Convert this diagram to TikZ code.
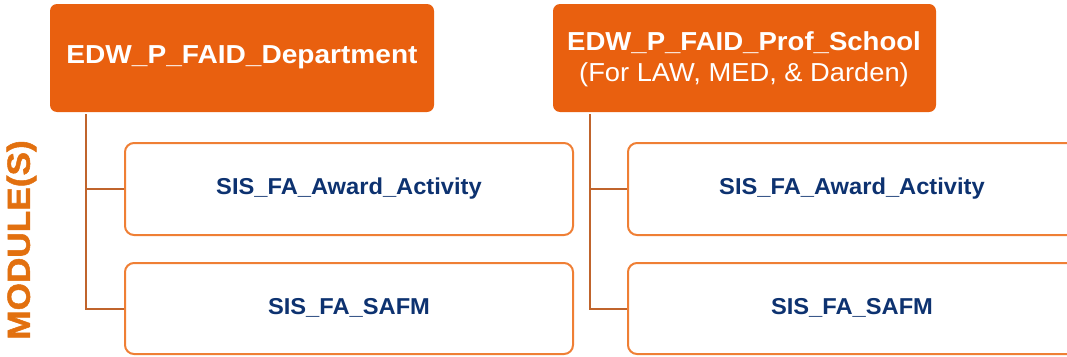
\documentclass[tikz,border=0pt]{standalone}
\usepackage{fontspec}
\setmainfont{Liberation Sans}
\newfontfamily\heavyfont[FakeBold=1.5]{Liberation Sans}
\definecolor{topfill}{HTML}{E9600F}
\definecolor{childborder}{HTML}{EF7F35}
\definecolor{conn}{HTML}{C0642C}
\definecolor{navy}{HTML}{0D3270}
\definecolor{modcol}{HTML}{E2700F}
\begin{document}
\begin{tikzpicture}[x=1pt,y=-1pt,
  topbox/.style={fill=topfill,draw=none,rounded corners=7pt},
  childbox/.style={draw=childborder,line width=2pt,rounded corners=9pt},
  conline/.style={draw=conn,line width=2.2pt},
  toptext/.style={text=white,inner sep=0pt,font=\bfseries\fontsize{26}{30}\selectfont},
  subtext/.style={text=white,inner sep=0pt,font=\fontsize{26}{30}\selectfont},
  childtext/.style={text=navy,inner sep=0pt,font=\bfseries\fontsize{23}{27}\selectfont}]
\useasboundingbox (0,0) rectangle (1067,356);
% top boxes
\path[topbox] (50,4) rectangle (434,112);
\path[topbox] (553,4) rectangle (936,112);
\node[toptext] (dt) at (242,57) {\scalebox{1.08}[1]{EDW\_P\_FAID\_Department}};
\node[toptext] (pt) at (744,43) {\scalebox{1.06}[1]{EDW\_P\_FAID\_Prof\_School}};
\node[subtext] (ps) at (744,75) {\scalebox{1.05}[1]{(For LAW, MED, \& Darden)}};
% connector anchors
\coordinate (d0) at (86,114);
\coordinate (p0) at (590,114);
% child boxes
\path[childbox] (125,143) rectangle (573,235);
\path[childbox] (125,263) rectangle (573,354);
\path[childbox] (628,143) rectangle (1090,235);
\path[childbox] (628,263) rectangle (1090,354);
\coordinate (da) at (124,189);
\coordinate (ds) at (124,309);
\coordinate (pa) at (627,189);
\coordinate (ps2) at (627,309);
\node[childtext] (dat) at (349,189) {\scalebox{1.03}[1]{SIS\_FA\_Award\_Activity}};
\node[childtext] (dst) at (349,308) {\scalebox{1.03}[1]{SIS\_FA\_SAFM}};
\node[childtext] (pat) at (852,189) {\scalebox{1.03}[1]{SIS\_FA\_Award\_Activity}};
\node[childtext] (pst) at (852,308) {\scalebox{1.03}[1]{SIS\_FA\_SAFM}};
% connectors
\draw[conline] (d0) |- (ds);
\draw[conline] (86,189) -- (da);
\draw[conline] (p0) |- (ps2);
\draw[conline] (590,189) -- (pa);
% side label
\node[rotate=90,text=modcol,inner sep=0pt] (mod) at (21.5,240) {\scalebox{1.1}[1.0]{\heavyfont\bfseries\fontsize{32}{34}\selectfont MODULE(S)}};
\end{tikzpicture}
\end{document}
